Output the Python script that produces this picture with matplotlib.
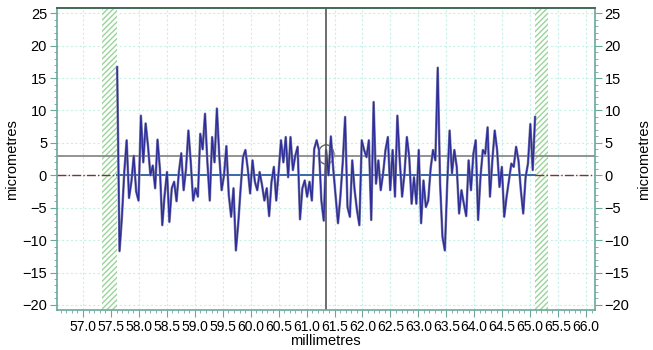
import numpy as np
import matplotlib.pyplot as plt
from matplotlib.ticker import MultipleLocator
from matplotlib.patches import Ellipse

plt.rcParams['font.family'] = ['Liberation Sans', 'DejaVu Sans']

# profile values (micrometres), read left to right off the trace
seg_a = [16.7, -11.7, -6.5, 0.5, 5.4, -3.5, -1.0, 3.0, -2.5, -3.9, 9.2, 2.0, 8.0, 4.5,
         0.0, 1.5, -2.0, 5.5, 1.0, -7.7, -3.0, 0.5, -7.2, -2.0, -1.0, -4.0, 0.5]
seg_b = [3.4, -2.3, 1.0, 6.9, 2.0, -3.9, -2.0, -3.3, 6.4, 4.0, 9.5, 2.0, -3.9, 5.9, 2.0,
         10.3, 3.0, -2.3, 0.0, 4.5, -3.0, -6.4, -2.0, -11.6, -7.4, -2.0, 2.8, 3.9, 1.0, -2.8]
seg_c = [2.3, -1.0, -2.3, 0.5, -1.5, -3.9, -2.0, -6.3, -1.0, 1.3, -3.9, 0.5, 5.4, 2.0, 5.9,
         -0.3, 5.9, 0.8, 3.0, 4.4, -6.8, -2.0, -0.8, -3.3, -1.0, -3.9, 4.1, 5.4, 3.9, -3.9, -7.0]
seg_d = [3.9, 0.0, 6.0, 1.0, -3.3, -7.4, -3.3, 2.0, 9.0, -4.9, -6.4, 2.3, -2.3, -5.4, -7.7,
         5.4, 3.9, 2.8, 5.4, -6.9, 11.3, -1.3, 2.3, -2.3, 0.3, 3.9, 5.9, -2.3, 3.9]
seg_e = [-3.3, 9.2, 2.3, -3.3, 0.3, 5.9, 2.8, -4.4, -0.3, -4.4, 3.9, -7.4, -0.8, -4.9, -3.9,
         1.0, 3.9, 2.3, 16.6, -1.3, -9.5, -11.6, -1.3, 6.9, 0.3, 3.9, 1.3, -5.9, -2.3, -4.4]
seg_f = [-6.3, 2.3, -2.3, 3.3, 5.4, -6.9, -0.3, 3.9, 3.3, 7.4, -3.3, 2.3, 6.9, 3.9, -1.8,
         1.3, -6.4, -3.3, -0.8, 1.8, 1.3, 4.4, 2.3, -2.3, -5.9, -0.3, 1.8, 7.9, 0.8, 9.0]
profile = np.array(seg_a + seg_b + seg_c + seg_d + seg_e + seg_f)
x_start, x_end = 57.61, 65.09
pos = np.linspace(x_start, x_end, len(profile))

bands = [(57.34, 57.60), (65.09, 65.32)]
cursor_x = 61.35
ref_level = 3.0
xlim = (56.53, 66.16)
ylim = (-20.8, 25.8)

fig = plt.figure(figsize=(6.53, 3.5), dpi=100)
ax = fig.add_axes([0.087, 0.114, 0.824, 0.863])

ax.grid(True, which='major', color='#c8f0ea', linestyle=(0, (2, 2)), linewidth=0.8)
ax.set_axisbelow(True)

for b0, b1 in bands:
    ax.axvspan(b0, b1, facecolor='white', edgecolor='#9ad49a', hatch='//////', linewidth=0)

ax.axhline(ref_level, color='#8a8a8a', linewidth=1.3)
ax.plot([x_start, x_end], [0, 0], color='#2a5fa0', linewidth=1.3)
ax.plot([xlim[0], x_start], [0, 0], color='#8b2e2e', linewidth=1.0, linestyle='-.')
ax.plot([x_end, xlim[1]], [0, 0], color='#8b2e2e', linewidth=1.0, linestyle='-.')

ax.plot(pos, profile, color='#8282aa', linewidth=1.8)
ax.plot(pos, profile, color='#1e1e9a', linewidth=1.0, alpha=0.85)

ax.axvline(cursor_x, color='#555555', linewidth=1.2)
ax.add_patch(Ellipse((cursor_x, 3.2), 0.28, 3.0, fill=False, edgecolor='#666666', linewidth=1.0))

ax.set_xlim(*xlim)
ax.set_ylim(*ylim)
ax.xaxis.set_major_locator(MultipleLocator(0.5))
ax.xaxis.set_minor_locator(MultipleLocator(0.1))
ax.yaxis.set_major_locator(MultipleLocator(5))
ax.yaxis.set_minor_locator(MultipleLocator(1))
ax.xaxis.set_major_formatter(plt.FormatStrFormatter('%.1f'))

tick_col = '#6aa89a'
ax.tick_params(axis='both', which='major', length=5, color=tick_col, labelsize=10.5, pad=2)
ax.tick_params(axis='x', which='major', labelsize=10)
ax.tick_params(axis='both', which='minor', length=2.5, color=tick_col)
ax.tick_params(axis='y', which='both', left=True, right=True, labelleft=True, labelright=True)
for s in ['left', 'right', 'bottom']:
    ax.spines[s].set_color(tick_col)
    ax.spines[s].set_linewidth(1.2)
ax.spines['top'].set_color('#3f6a55')
ax.spines['top'].set_linewidth(1.4)

ax.set_xlabel('millimetres', fontsize=10.5, labelpad=0)
ax.set_ylabel('micrometres', fontsize=10.5, labelpad=2)
ax2 = ax.secondary_yaxis('right')
ax2.set_yticks([])
ax2.spines['right'].set_visible(False)
ax2.set_ylabel('micrometres', fontsize=10.5, labelpad=30)

fig.savefig('out.png', dpi=100)
